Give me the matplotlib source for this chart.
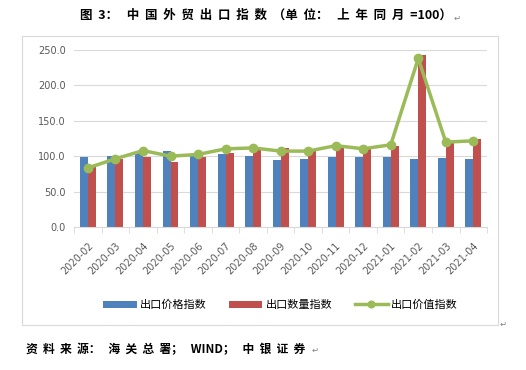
import numpy as np
import matplotlib.pyplot as plt
from matplotlib.patches import Rectangle

plt.rcParams['font.family'] = ['Noto Sans CJK SC', 'DejaVu Sans']

months = ['2020-02', '2020-03', '2020-04', '2020-05', '2020-06', '2020-07', '2020-08',
          '2020-09', '2020-10', '2020-11', '2020-12', '2021-01', '2021-02', '2021-03', '2021-04']
price_idx = [98.5, 100.8, 105.0, 107.8, 100.6, 103.6, 100.8, 95.2, 96.5, 99.3, 99.3, 99.3, 96.5, 98.0, 96.5]
volume_idx = [85.0, 95.5, 99.5, 92.3, 99.5, 105.0, 109.5, 112.0, 107.5, 113.0, 110.5, 115.0, 243.5, 119.0, 124.8]
value_idx = [83.6, 96.5, 108.0, 100.2, 102.6, 110.5, 111.8, 107.3, 107.3, 115.0, 110.6, 116.2, 238.0, 120.0, 121.8]

blue = '#4F81BD'
red = '#C0504D'
green = '#9BBB59'

fig = plt.figure(figsize=(5.26, 3.70), dpi=100)
fig.patches.append(Rectangle((0.042, 0.122), 0.905, 0.781, transform=fig.transFigure,
                             fill=False, edgecolor='#D9D9D9', linewidth=0.8))

ax = fig.add_axes([0.141, 0.386, 0.785, 0.479])
x = np.arange(len(months))
w = 0.29
b1 = ax.bar(x - w / 2, price_idx, w, color=blue, label='出口价格指数', zorder=2)
b2 = ax.bar(x + w / 2, volume_idx, w, color=red, label='出口数量指数', zorder=2)
l1, = ax.plot(x, value_idx, color=green, lw=2.5, marker='o', ms=6, label='出口价值指数', zorder=3)

ax.set_xlim(-0.5, len(months) - 0.5)
ax.set_ylim(0, 250)
ax.set_yticks(np.arange(0, 251, 50))
ax.set_yticklabels(['%.1f' % v for v in np.arange(0, 251, 50)], fontsize=7, color='#595959',
                   family='DejaVu Sans')
ax.set_xticks(x)
ax.set_xticklabels(months, rotation=45, ha='right', rotation_mode='anchor', fontsize=7,
                   color='#595959', family='DejaVu Sans')
ax.set_xticks(np.arange(-0.5, len(months), 1), minor=True)
ax.tick_params(axis='x', which='major', length=0, pad=10)
ax.tick_params(axis='x', which='minor', length=4, color='#D9D9D9')
ax.tick_params(axis='y', length=0, pad=6)
ax.grid(axis='y', color='#D9D9D9', lw=0.8, zorder=0)
for s in ['top', 'right', 'left']:
    ax.spines[s].set_visible(False)
ax.spines['bottom'].set_color('#D9D9D9')

ax.legend([b1, b2, l1], ['出口价格指数', '出口数量指数', '出口价值指数'],
          loc='center', bbox_to_anchor=(0.5, -0.44), ncol=3, frameon=False, fontsize=8,
          handlelength=3.0, handletextpad=0.3, columnspacing=2.0, markerscale=0.8)

fig.text(0.506, 0.958, '图  3：   中  国  外  贸  出  口  指  数  （单  位：   上  年  同  月  =100）',
         ha='center', va='center', fontsize=9, fontweight='bold')
fig.text(0.862, 0.952, '↵', ha='left', va='center', fontsize=6, color='#808080', family='DejaVu Sans')
fig.text(0.05, 0.054, '资  料  来  源：   海  关  总  署；   WIND；   中  银  证  券', ha='left', va='center',
         fontsize=8.5, fontweight='bold')
fig.text(0.593, 0.054, '↵', ha='left', va='center', fontsize=6, color='#808080', family='DejaVu Sans')
fig.text(0.95, 0.125, '↵', ha='left', va='center', fontsize=6, color='#808080', family='DejaVu Sans')

fig.savefig('out.png', dpi=100)
